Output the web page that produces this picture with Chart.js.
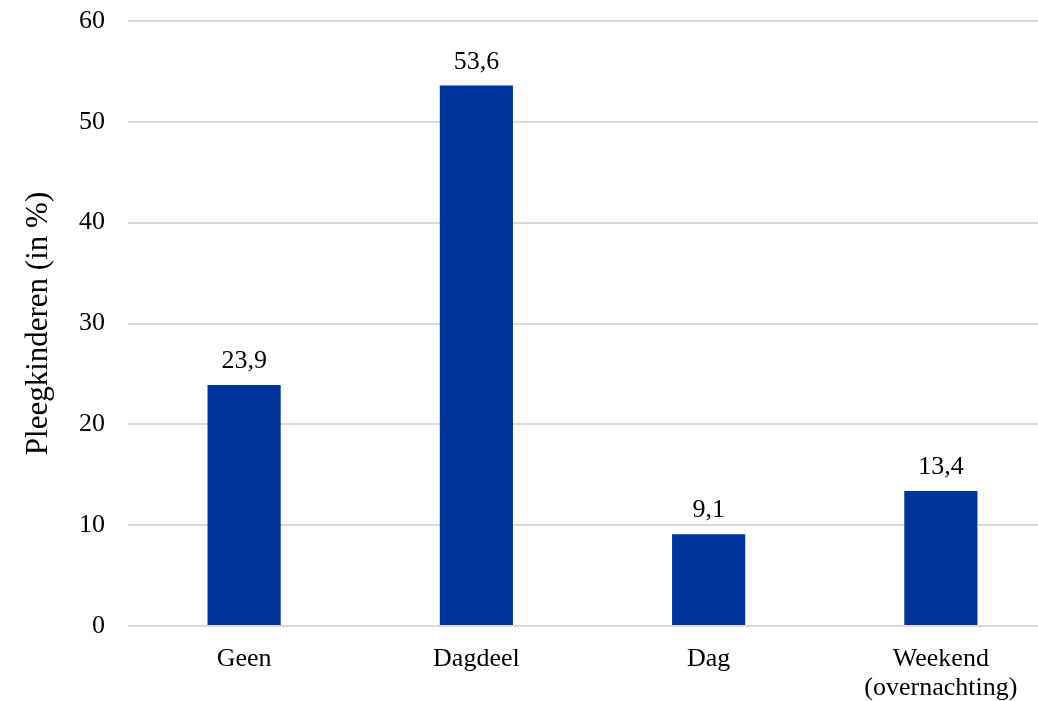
<!DOCTYPE html>
<html lang="nl">
  <head>
    <meta charset="UTF-8" />
    <title>Pleegkinderen</title>
    <script src="https://cdn.jsdelivr.net/npm/chart.js"></script>
    <style>
      html, body { margin: 0; padding: 0; background: #fff; overflow: hidden; }
      .wrap { width: 1038px; height: 701px; overflow: hidden; }
    </style>
  </head>
  <body>
    <div class="wrap">
      <canvas id="chart" width="1057" height="701"></canvas>
    </div>

    <script>
      const categories = ["Geen", "Dagdeel", "Dag", ["Weekend", "(overnachting)"]];
      const values = [23.9, 53.6, 9.1, 13.4];
      const yTicks = [0, 10, 20, 30, 40, 50, 60];

      const font = "'Liberation Serif', 'Times New Roman', serif";

      // waarden boven de staven
      const barLabels = {
        id: "barLabels",
        afterDatasetsDraw(chart) {
          const ctx = chart.ctx;
          const meta = chart.getDatasetMeta(0);
          ctx.save();
          ctx.font = "26px " + font;
          ctx.fillStyle = "#000";
          ctx.textAlign = "center";
          ctx.textBaseline = "alphabetic";
          meta.data.forEach((bar, i) => {
            const txt = values[i].toFixed(1).replace(".", ",");
            ctx.fillText(txt, bar.x, bar.y - 17);
          });
          ctx.restore();
        },
      };

      new Chart(document.getElementById("chart"), {
        type: "bar",
        data: {
          labels: categories,
          datasets: [
            {
              data: values,
              backgroundColor: "#003399",
              borderWidth: 0,
              barPercentage: 1,
              categoryPercentage: 0.315,
            },
          ],
        },
        options: {
          responsive: false,
          animation: false,
          layout: { padding: { top: 21, right: 0, left: 0, bottom: 0 } },
          plugins: { legend: { display: false }, tooltip: { enabled: false } },
          scales: {
            x: {
              grid: { display: false },
              border: { display: false },
              ticks: {
                color: "#000",
                padding: 11,
                maxRotation: 0,
                font: { family: font, size: 26, lineHeight: 1.1 },
              },
              afterFit(scale) {
                scale.height = 75;
                scale.paddingLeft = 0;
                scale.paddingRight = 0;
              },
            },
            y: {
              min: 0,
              max: 60,
              afterBuildTicks(scale) {
                scale.ticks = yTicks.map((v) => ({ value: v }));
              },
              grid: { color: "#d9d9d9", lineWidth: 2, drawTicks: false },
              border: { display: false },
              ticks: {
                color: "#000",
                padding: 23,
                font: { family: font, size: 26 },
              },
              title: {
                display: true,
                text: "Pleegkinderen (in %)",
                color: "#000",
                padding: { top: 20, bottom: 0 },
                font: { family: font, size: 31 },
              },
              afterFit(scale) {
                scale.width = 128;
                scale.paddingTop = 0;
                scale.paddingBottom = 0;
              },
            },
          },
        },
        plugins: [barLabels],
      });
    </script>
  </body>
</html>
